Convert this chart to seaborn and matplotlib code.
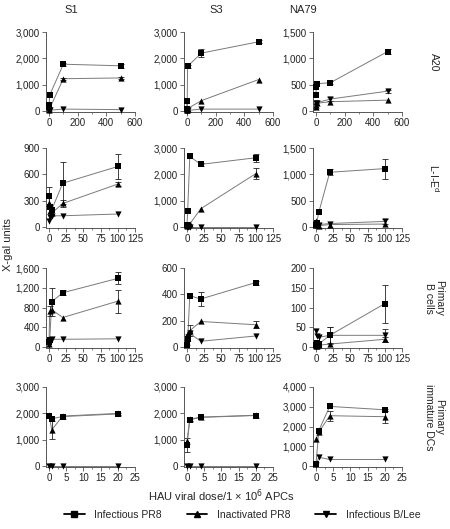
import numpy as np
import pandas as pd
import matplotlib
matplotlib.use("Agg")
import matplotlib.pyplot as plt
import seaborn as sns
from matplotlib.lines import Line2D
from matplotlib.ticker import MultipleLocator, StrMethodFormatter

nan = np.nan

# doses (HAU / 1e6 APCs) per row
dose_a20 = [0, 1, 4, 20, 100, 500]
dose_mid = [0, 1, 4, 20, 100]
dose_dc = [0, 0.8, 4, 20]

series_names = ["Infectious PR8", "Inactivated PR8", "Infectious B/Lee"]
strains = ["S1", "S3", "NA79"]
row_labels = ["A20", "L-I-E$^\\mathrm{d}$", "Primary\nB cells", "Primary\nimmature DCs"]

# A20
a20_s1_pr8 = [250, 150, 600, nan, 1780, 1720]
a20_s1_pr8_err = [0, 0, 0, 0, 50, 80]
a20_s1_inact = [120, 60, nan, nan, 1230, 1260]
a20_s1_inact_err = [0, 0, 0, 0, 40, 50]
a20_s1_blee = [60, 30, 40, nan, 80, 60]

a20_s3_pr8 = [400, 100, 1700, nan, 2200, 2630]
a20_s3_pr8_err = [0, 0, 60, 0, 150, 60]
a20_s3_inact = [60, 30, 100, nan, 400, 1200]
a20_s3_blee = [20, 20, 30, nan, 80, 80]

a20_na79_pr8 = [300, 450, 520, nan, 540, 1130]
a20_na79_pr8_err = [0, 0, 0, 0, 30, 40]
a20_na79_inact = [80, 120, 150, nan, 180, 210]
a20_na79_blee = [100, 150, 160, nan, 230, 380]
a20_na79_blee_err = [0, 0, 0, 0, 40, 30]

# L-I-Ed
lie_s1_pr8 = [350, 230, 200, 500, 690]
lie_s1_pr8_err = [110, 0, 0, 240, 140]
lie_s1_inact = [280, 180, 160, 270, 490]
lie_s1_inact_err = [0, 0, 0, 40, 20]
lie_s1_blee = [70, 120, 130, 130, 150]

lie_s3_pr8 = [100, 620, 2680, 2380, 2630]
lie_s3_pr8_err = [0, 0, 0, 60, 150]
lie_s3_inact = [60, 80, 120, 700, 2030]
lie_s3_inact_err = [0, 0, 0, 0, 200]
lie_s3_blee = [20, 20, 20, 20, 20]

lie_na79_pr8 = [50, 80, 280, 1040, 1110]
lie_na79_pr8_err = [0, 0, 0, 60, 190]
lie_na79_inact = [120, 40, 30, 50, 60]
lie_na79_blee = [60, 30, 50, 70, 110]
lie_na79_blee_err = [0, 0, 0, 0, 40]

# Primary B cells
bc_s1_pr8 = [100, 150, 920, 1100, 1390]
bc_s1_pr8_err = [0, 0, 280, 50, 120]
bc_s1_inact = [60, 730, 760, 600, 930]
bc_s1_inact_err = [0, 100, 0, 0, 230]
bc_s1_blee = [40, 150, 160, 160, 170]

bc_s3_pr8 = [20, 60, 390, 365, 490]
bc_s3_pr8_err = [0, 0, 0, 55, 15]
bc_s3_inact = [40, 110, 125, 195, 170]
bc_s3_inact_err = [0, 0, 40, 0, 25]
bc_s3_blee = [30, 80, 105, 45, 85]

bc_na79_pr8 = [5, 10, 8, 30, 110]
bc_na79_pr8_err = [0, 0, 0, 22, 48]
bc_na79_inact = [2, 4, 5, 8, 20]
bc_na79_inact_err = [0, 0, 0, 0, 6]
bc_na79_blee = [40, 28, 25, 30, 30]
bc_na79_blee_err = [0, 0, 0, 20, 16]

# Primary immature DCs
dc_s1_pr8 = [1900, 1800, 1880, 1980]
dc_s1_pr8_err = [0, 0, 0, 40]
dc_s1_inact = [1950, 1380, 1900, 2000]
dc_s1_inact_err = [0, 340, 0, 0]
dc_s1_blee = [20, 20, 20, 20]

dc_s3_pr8 = [800, 1760, 1850, 1920]
dc_s3_pr8_err = [250, 60, 0, 0]
dc_s3_inact = [950, 1780, 1860, 1930]
dc_s3_blee = [10, 10, 10, 10]

dc_na79_pr8 = [100, 1800, 3020, 2850]
dc_na79_pr8_err = [0, 0, 0, 60]
dc_na79_inact = [1350, 1720, 2550, 2500]
dc_na79_inact_err = [0, 0, 250, 300]
dc_na79_blee = [50, 450, 340, 340]

# (row, col, doses, [(vals, errs), ...], ymax, ystep, xmax, xstep)
panels = [
    (0, 0, dose_a20, [(a20_s1_pr8, a20_s1_pr8_err), (a20_s1_inact, a20_s1_inact_err), (a20_s1_blee, None)], 3000, 1000, 600, 200),
    (0, 1, dose_a20, [(a20_s3_pr8, a20_s3_pr8_err), (a20_s3_inact, None), (a20_s3_blee, None)], 3000, 1000, 600, 200),
    (0, 2, dose_a20, [(a20_na79_pr8, a20_na79_pr8_err), (a20_na79_inact, None), (a20_na79_blee, a20_na79_blee_err)], 1500, 500, 600, 200),
    (1, 0, dose_mid, [(lie_s1_pr8, lie_s1_pr8_err), (lie_s1_inact, lie_s1_inact_err), (lie_s1_blee, None)], 900, 300, 125, 25),
    (1, 1, dose_mid, [(lie_s3_pr8, lie_s3_pr8_err), (lie_s3_inact, lie_s3_inact_err), (lie_s3_blee, None)], 3000, 1000, 125, 25),
    (1, 2, dose_mid, [(lie_na79_pr8, lie_na79_pr8_err), (lie_na79_inact, None), (lie_na79_blee, lie_na79_blee_err)], 1500, 500, 125, 25),
    (2, 0, dose_mid, [(bc_s1_pr8, bc_s1_pr8_err), (bc_s1_inact, bc_s1_inact_err), (bc_s1_blee, None)], 1600, 400, 125, 25),
    (2, 1, dose_mid, [(bc_s3_pr8, bc_s3_pr8_err), (bc_s3_inact, bc_s3_inact_err), (bc_s3_blee, None)], 600, 200, 125, 25),
    (2, 2, dose_mid, [(bc_na79_pr8, bc_na79_pr8_err), (bc_na79_inact, bc_na79_inact_err), (bc_na79_blee, bc_na79_blee_err)], 200, 50, 125, 25),
    (3, 0, dose_dc, [(dc_s1_pr8, dc_s1_pr8_err), (dc_s1_inact, dc_s1_inact_err), (dc_s1_blee, None)], 3000, 1000, 25, 5),
    (3, 1, dose_dc, [(dc_s3_pr8, dc_s3_pr8_err), (dc_s3_inact, None), (dc_s3_blee, None)], 3000, 1000, 25, 5),
    (3, 2, dose_dc, [(dc_na79_pr8, dc_na79_pr8_err), (dc_na79_inact, dc_na79_inact_err), (dc_na79_blee, None)], 4000, 1000, 25, 5),
]

markers = ["s", "^", "v"]

sns.set_style("ticks")
plt.rcParams["font.family"] = ["Liberation Sans", "DejaVu Sans"]

W, H = 450, 529
fig = plt.figure(figsize=(W / 100, H / 100), dpi=100)

col_left = [46, 184, 313]
row_top = [32, 148, 268, 387]
ax_w, ax_h = 89, 80

for row, col, doses, series, ymax, ystep, xmax, xstep in panels:
    ax = fig.add_axes([col_left[col] / W, 1 - (row_top[row] + ax_h) / H, ax_w / W, ax_h / H])
    for (vals, errs), m in zip(series, markers):
        df = pd.DataFrame({"dose": doses, "val": vals,
                           "err": errs if errs is not None else [0] * len(doses)})
        df = df.dropna(subset=["val"])
        sns.lineplot(data=df, x="dose", y="val", ax=ax, color="#7a7a7a", lw=0.7,
                     errorbar=None, zorder=2)
        e = df[df["err"] > 0]
        if len(e):
            ax.errorbar(e["dose"], e["val"], yerr=e["err"], fmt="none", ecolor="#222222",
                        elinewidth=0.6, capsize=2, capthick=0.6, zorder=2, clip_on=False)
        sns.scatterplot(data=df, x="dose", y="val", ax=ax, marker=m, color="black",
                        s=20, linewidth=0, zorder=3, clip_on=False)
    ax.set_xlim(-0.035 * xmax, xmax)
    ax.set_ylim(-0.01 * ymax, ymax)
    ax.xaxis.set_major_locator(MultipleLocator(xstep))
    ax.xaxis.set_minor_locator(MultipleLocator(xstep / 2))
    ax.yaxis.set_major_locator(MultipleLocator(ystep))
    ax.yaxis.set_major_formatter(StrMethodFormatter("{x:,.0f}"))
    ax.set_xlabel("")
    ax.set_ylabel("")
    sns.despine(ax=ax)
    for s in ["left", "bottom"]:
        ax.spines[s].set_color("#555555")
        ax.spines[s].set_linewidth(0.7)
    ax.tick_params(which="major", length=3, width=0.6, color="#555555",
                   labelsize=7, labelcolor="#222222", pad=1.5)
    ax.tick_params(which="minor", length=1.5, width=0.5, color="#555555")

# column titles
for x, name in zip([71, 216, 303], strains):
    fig.text(x / W, 1 - 10 / H, name, ha="center", va="center", fontsize=8)

# row labels
for row, lab in enumerate(row_labels):
    fig.text(434 / W, 1 - (row_top[row] + 30) / H, lab, ha="center", va="center",
             rotation=-90, fontsize=7.5, color="#222222", linespacing=1.1)

fig.text(8 / W, 1 - 245 / H, "X-gal units", rotation=90, ha="center", va="center", fontsize=8)
fig.text(222 / W, 1 - 496 / H, "HAU viral dose/1 \u00d7 10$^{6}$ APCs", ha="center",
         va="center", fontsize=8)

handles = [Line2D([], [], color="black", lw=1.3, marker=m, markersize=5) for m in markers]
fig.legend(handles, series_names, loc="center", bbox_to_anchor=(242 / W, 1 - 515 / H),
           ncol=3, frameon=False, fontsize=7.5, handlelength=2.0, handletextpad=0.9,
           columnspacing=2.4)

fig.savefig("out.png", dpi=100)
